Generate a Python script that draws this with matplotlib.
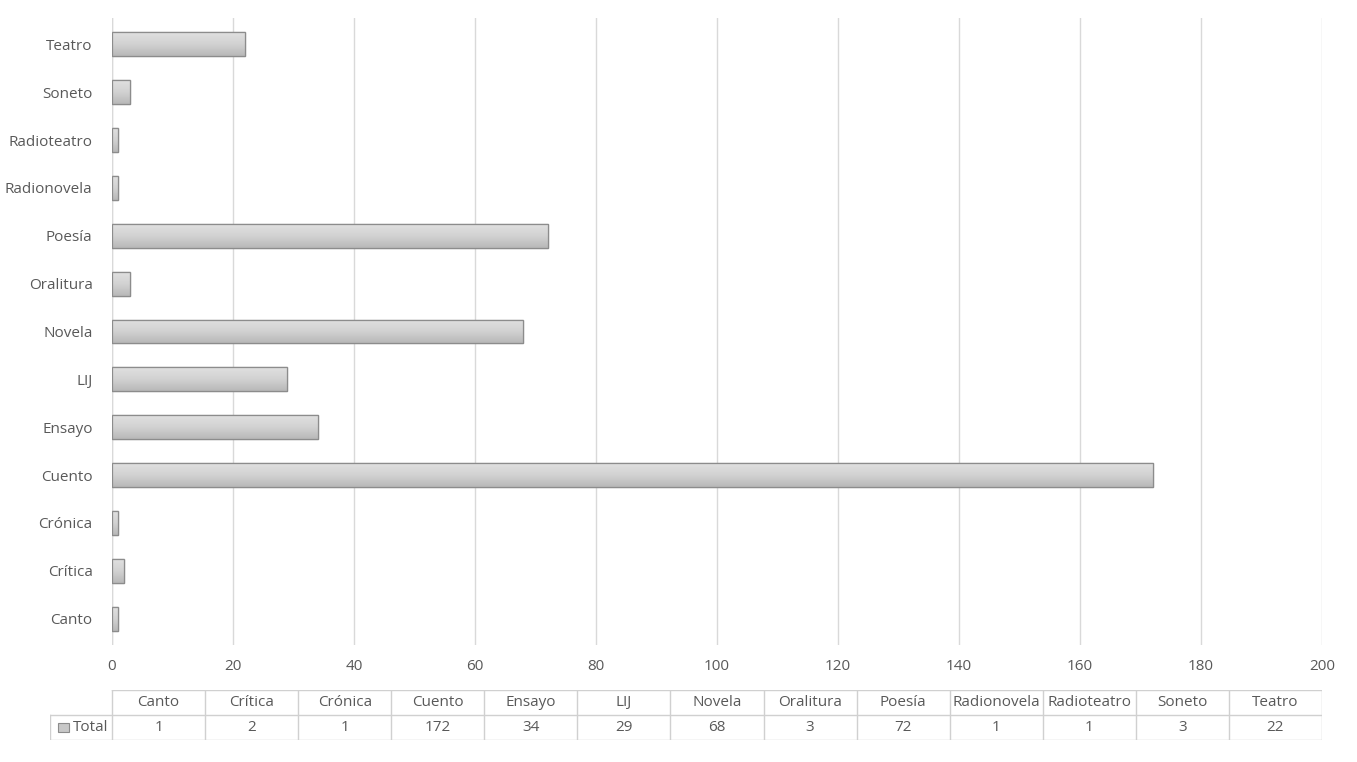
import matplotlib
matplotlib.use("Agg")
import matplotlib.pyplot as plt
import numpy as np

categories = ["Canto", "Crítica", "Crónica", "Cuento", "Ensayo", "LIJ", "Novela",
              "Oralitura", "Poesía", "Radionovela", "Radioteatro", "Soneto", "Teatro"]
values = [1, 2, 1, 172, 34, 29, 68, 3, 72, 1, 1, 3, 22]
series_name = "Total"
xticks = list(range(0, 201, 20))

plt.rcParams['font.family'] = ['Open Sans', 'DejaVu Sans']
txt = "#595959"
W, H = 1357, 762
fig = plt.figure(figsize=(W/100, H/100), dpi=100)

ax = fig.add_axes([112/W, (H-645)/H, 1210/W, (645-18)/H])
y = np.arange(len(categories))
bars = ax.barh(y, values, height=0.5, color="#c8c8c8", edgecolor="#8c8c8c", linewidth=0.9, zorder=3)
grad = np.linspace(0, 1, 100).reshape(-1, 1)
cmap = matplotlib.colors.LinearSegmentedColormap.from_list("g", ["#b8b8b8", "#d2d2d2", "#e0e0e0"])
for b in bars:
    x0, y0, w, h = b.get_x(), b.get_y(), b.get_width(), b.get_height()
    im = ax.imshow(grad, cmap=cmap, extent=[x0, x0+w, y0, y0+h],
                   aspect="auto", zorder=3.5, origin="lower")
    im.set_clip_path(b)
    ax.add_patch(plt.Rectangle((x0, y0), w, h, fill=False, edgecolor="#8c8c8c", linewidth=0.9, zorder=4))
ax.set_xlim(0, 200)
ax.set_ylim(-0.55, len(categories) - 0.45)
ax.set_xticks(xticks)
ax.set_yticks(y)
ax.set_yticklabels(categories)
ax.grid(axis="x", color="#d9d9d9", linewidth=1, zorder=0)
for s in ax.spines.values():
    s.set_visible(False)
ax.axvline(0, color="#d9d9d9", linewidth=1, zorder=1)
ax.tick_params(length=0, colors=txt, labelsize=11, pad=14)
ax.tick_params(axis="x", pad=10)

# data table
n = len(categories)
tx0 = -62/1210*n
tab = fig.add_axes([50/W, (H-740)/H, (1322-50)/W, 50/H])
tab.set_xlim(tx0, n)
tab.set_ylim(0, 2)
tab.axis("off")
lc = "#d0d0d0"
tab.plot([0, n], [2, 2], color=lc, lw=1)
tab.plot([tx0, n], [1, 1], color=lc, lw=1)
tab.plot([tx0, n], [0, 0], color=lc, lw=1)
tab.plot([tx0, tx0], [0, 1], color=lc, lw=1)
for i in range(n + 1):
    tab.plot([i, i], [0, 2], color=lc, lw=1)
for i, (c, v) in enumerate(zip(categories, values)):
    tab.text(i + 0.5, 1.5, c, ha="center", va="center", color=txt, fontsize=11)
    tab.text(i + 0.5, 0.5, str(v), ha="center", va="center", color=txt, fontsize=11)
tab.add_patch(plt.Rectangle((tx0 + 0.09, 0.33), 0.11, 0.34, facecolor="#c8c8c8", edgecolor="#8c8c8c", lw=0.8))
tab.text(tx0 + 0.25, 0.5, series_name, ha="left", va="center", color=txt, fontsize=11)

fig.savefig("out.png", dpi=100, facecolor="white")
